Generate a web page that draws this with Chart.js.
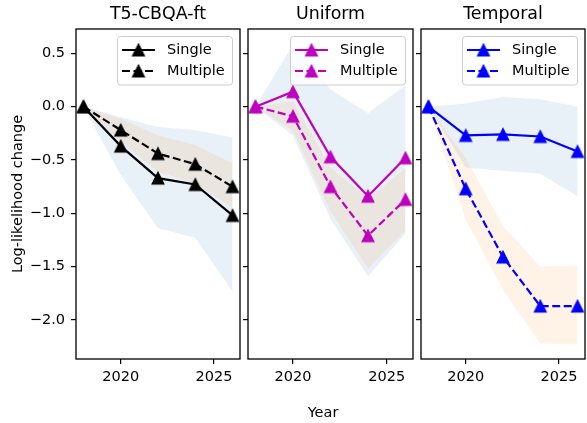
<!DOCTYPE html>
<html><head><meta charset="utf-8">
<script src="https://cdn.jsdelivr.net/npm/chart.js@4.4.0/dist/chart.umd.min.js"></script>
<style>
html,body{margin:0;padding:0;background:#fff;}
#wrap{position:relative;width:587px;height:423px;overflow:hidden;}
canvas{position:absolute;top:0;}
#xlabel{position:absolute;left:273px;width:100px;top:404px;line-height:17px;text-align:center;font-family:"DejaVu Sans";font-size:14.5px;color:#000;}
</style></head><body>
<div id="wrap">
<canvas id="c1" width="244" height="423" style="left:0px"></canvas>
<canvas id="c2" width="175" height="423" style="left:241px"></canvas>
<canvas id="c3" width="173" height="423" style="left:414px"></canvas>
<div id="xlabel">Year</div>
</div>
<script>
// ---- data ----
const years = [2018, 2020, 2022, 2024, 2026];
const xTicks = [2020, 2025];
const yTicks = [-2.0, -1.5, -1.0, -0.5, 0.0, 0.5];
const panelTitles = ['T5-CBQA-ft', 'Uniform', 'Temporal'];
const seriesNames = ['Single', 'Multiple'];

const t5Single        = [0, -0.37, -0.67, -0.73, -1.02];
const t5SingleUpper   = [0, -0.10, -0.19, -0.22, -0.29];
const t5SingleLower   = [0, -0.64, -1.14, -1.23, -1.73];
const t5Multiple      = [0, -0.22, -0.44, -0.54, -0.75];
const t5MultipleUpper = [0, -0.11, -0.27, -0.36, -0.53];
const t5MultipleLower = [0, -0.33, -0.61, -0.72, -0.95];

const uniSingle        = [0, 0.14, -0.47, -0.84, -0.48];
const uniSingleUpper   = [0, 0.58, 0.16, -0.06, 0.20];
const uniSingleLower   = [0, -0.27, -1.05, -1.59, -1.19];
const uniMultiple      = [0, -0.09, -0.75, -1.21, -0.87];
const uniMultipleUpper = [0, 0.05, -0.57, -0.86, -0.58];
const uniMultipleLower = [0, -0.23, -0.98, -1.52, -1.16];

const tempSingle        = [0, -0.27, -0.26, -0.28, -0.42];
const tempSingleUpper   = [0, 0.03, 0.09, 0.07, 0.00];
const tempSingleLower   = [0, -0.57, -0.60, -0.63, -0.84];
const tempMultiple      = [0, -0.77, -1.41, -1.87, -1.87];
const tempMultipleUpper = [0, -0.48, -1.12, -1.50, -1.49];
const tempMultipleLower = [0, -1.06, -1.72, -2.22, -2.23];

// ---- styling ----
const FONT = 'DejaVu Sans';
const TICK_SIZE = 14.5;
const BLUE_BAND = 'rgba(31,119,180,0.1)';
const ORANGE_BAND = 'rgba(255,127,14,0.1)';
const DASH = [8, 3.5];

function triangle(color) {
  const s = 16, c = document.createElement('canvas');
  c.width = s; c.height = s;
  const g = c.getContext('2d');
  g.beginPath(); g.moveTo(8, 2); g.lineTo(2, 14); g.lineTo(14, 14); g.closePath();
  g.fillStyle = color; g.fill();
  g.lineWidth = 1.1; g.strokeStyle = color; g.lineJoin = 'miter'; g.stroke();
  return c;
}
const pts = arr => years.map((x, i) => ({x: x, y: arr[i]}));
const fmtY = v => (v < 0 ? '\u2212' : '') + Math.abs(v).toFixed(1);

const framePlugin = {
  id: 'frame',
  afterDraw(chart) {
    const {ctx, chartArea: a} = chart;
    ctx.save();
    ctx.strokeStyle = '#000'; ctx.lineWidth = 1.3;
    ctx.strokeRect(a.left, a.top, a.right - a.left, a.bottom - a.top);
    ctx.restore();
  }
};

const legendPlugin = {
  id: 'boxLegend',
  afterDatasetsDraw(chart, args, opts) {
    const {ctx, chartArea: a} = chart;
    const w = 115, h = 48.5, r = 3;
    const x = a.right - 7.5 - w, y = a.top + 7.5;
    ctx.save();
    ctx.beginPath();
    ctx.moveTo(x + r, y); ctx.lineTo(x + w - r, y); ctx.arcTo(x + w, y, x + w, y + r, r);
    ctx.lineTo(x + w, y + h - r); ctx.arcTo(x + w, y + h, x + w - r, y + h, r);
    ctx.lineTo(x + r, y + h); ctx.arcTo(x, y + h, x, y + h - r, r);
    ctx.lineTo(x, y + r); ctx.arcTo(x, y, x + r, y, r); ctx.closePath();
    ctx.fillStyle = 'rgba(255,255,255,0.8)'; ctx.fill();
    ctx.strokeStyle = '#cccccc'; ctx.lineWidth = 1; ctx.stroke();
    opts.items.forEach((it, i) => {
      const yy = y + 13.5 + i * 21;
      ctx.beginPath();
      ctx.setLineDash(it.dash);
      ctx.lineWidth = 2.2; ctx.strokeStyle = it.color;
      ctx.moveTo(x + 4.5, yy); ctx.lineTo(x + 37.5, yy); ctx.stroke();
      ctx.setLineDash([]);
      ctx.drawImage(it.marker, x + 21 - 8, yy - 8);
      ctx.fillStyle = '#000';
      ctx.font = TICK_SIZE + 'px "' + FONT + '"';
      ctx.textBaseline = 'middle'; ctx.textAlign = 'left';
      ctx.fillText(it.text, x + 49.5, yy);
    });
    ctx.restore();
  }
};

function makePanel(id, title, color, single, sUp, sLo, multiple, mUp, mLo, first, rightPad, yWidth) {
  const marker = triangle(color);
  const ds = [
    {label: seriesNames[0], data: pts(single), borderColor: color, backgroundColor: color, borderWidth: 2.2,
     pointStyle: marker, pointRadius: 6, pointHoverRadius: 6, fill: false, order: 1},
    {label: seriesNames[1], data: pts(multiple), borderColor: color, backgroundColor: color, borderWidth: 2.2,
     borderDash: DASH, pointStyle: marker, pointRadius: 6, pointHoverRadius: 6, fill: false, order: 0},
    {label: 'single-upper', data: pts(sUp), borderWidth: 0, borderColor: 'rgba(0,0,0,0)', pointRadius: 0,
     fill: '+1', backgroundColor: BLUE_BAND, order: 6},
    {label: 'single-lower', data: pts(sLo), borderWidth: 0, borderColor: 'rgba(0,0,0,0)', pointRadius: 0,
     fill: false, order: 7},
    {label: 'multiple-upper', data: pts(mUp), borderWidth: 0, borderColor: 'rgba(0,0,0,0)', pointRadius: 0,
     fill: '+1', backgroundColor: ORANGE_BAND, order: 4},
    {label: 'multiple-lower', data: pts(mLo), borderWidth: 0, borderColor: 'rgba(0,0,0,0)', pointRadius: 0,
     fill: false, order: 5}
  ];
  return new Chart(document.getElementById(id), {
    type: 'line',
    data: {datasets: ds},
    plugins: [framePlugin, legendPlugin],
    options: {
      responsive: false, animation: false, events: [],
      layout: {autoPadding: false, padding: {left: 0, right: rightPad, top: 0, bottom: 0}},
      plugins: {
        legend: {display: false}, tooltip: {enabled: false}, title: {display: false},
        boxLegend: {items: [
          {text: seriesNames[0], color: color, dash: [], marker: marker},
          {text: seriesNames[1], color: color, dash: DASH, marker: marker}
        ]}
      },
      scales: {
        x: {
          type: 'linear', min: 2017.6, max: 2026.4,
          afterBuildTicks: s => { s.ticks = xTicks.map(v => ({value: v})); },
          afterFit: s => { s.height = 64; },
          ticks: {color: '#000', font: {family: FONT, size: TICK_SIZE}, padding: 4.5, autoSkip: false, maxRotation: 0,
                  callback: v => String(v)},
          grid: {display: true, drawOnChartArea: false, drawTicks: true, tickLength: 5, color: '#000', lineWidth: 1.2},
          border: {display: false}
        },
        xTop: {
          type: 'linear', position: 'top', axis: 'x', min: 2017.6, max: 2026.4,
          afterBuildTicks: s => { s.ticks = []; },
          afterFit: s => { s.height = 29; },
          ticks: {display: false}, grid: {display: false}, border: {display: false},
          title: {display: true, text: title, color: '#000', font: {family: FONT, size: 17.4, weight: 'normal'},
                  padding: {top: 3.6, bottom: 0}}
        },
        y: {
          type: 'linear', min: -2.366, max: 0.728,
          afterBuildTicks: s => { s.ticks = yTicks.map(v => ({value: v})); },
          afterFit: s => { s.width = yWidth; },
          ticks: {display: first, color: '#000', font: {family: FONT, size: TICK_SIZE}, padding: 6, autoSkip: false,
                  callback: fmtY},
          grid: {display: true, drawOnChartArea: false, drawTicks: true, tickLength: 5, color: '#000', lineWidth: 1.2},
          border: {display: false},
          title: {display: first, text: 'Log-likelihood change', color: '#000',
                  font: {family: FONT, size: TICK_SIZE}, padding: {top: 10, bottom: 0}}
        }
      }
    }
  });
}

makePanel('c1', panelTitles[0], '#000000', t5Single, t5SingleUpper, t5SingleLower,
          t5Multiple, t5MultipleUpper, t5MultipleLower, true, 4, 76);
makePanel('c2', panelTitles[1], '#bf00bf', uniSingle, uniSingleUpper, uniSingleLower,
          uniMultiple, uniMultipleUpper, uniMultipleLower, false, 3, 7);
makePanel('c3', panelTitles[2], '#0000ff', tempSingle, tempSingleUpper, tempSingleLower,
          tempMultiple, tempMultipleUpper, tempMultipleLower, false, 2, 7);
</script>
</body></html>
